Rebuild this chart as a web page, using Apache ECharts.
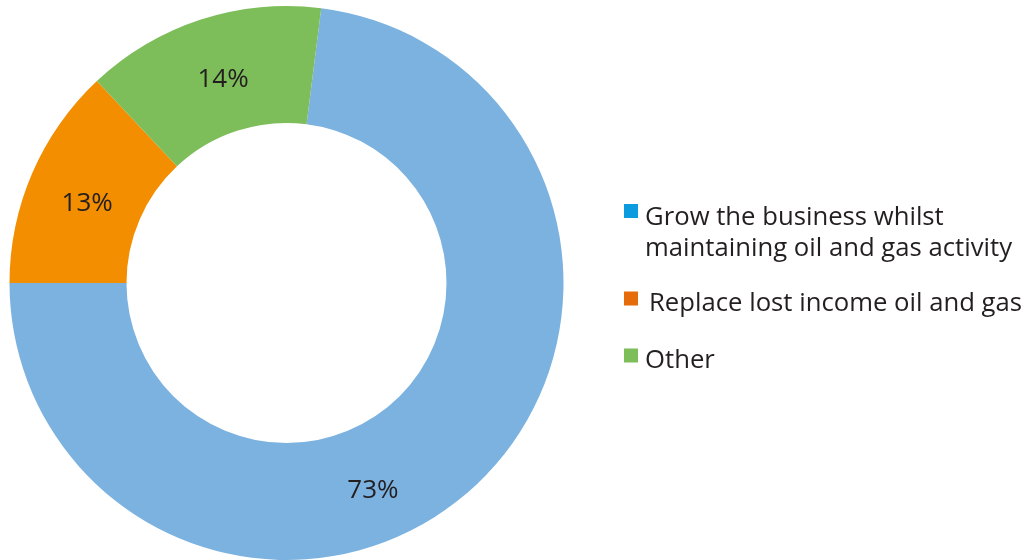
<!DOCTYPE html>
<html>
<head>
<meta charset="utf-8">
<script src="https://cdn.jsdelivr.net/npm/echarts@6/dist/echarts.min.js"></script>
<style>
html,body{margin:0;padding:0;background:#fff;}
#chart{width:1027px;height:560px;}
</style>
</head>
<body>
<div id="chart"></div>
<script>
// data
var names = ['Grow the business whilst maintaining oil and gas activity', 'Replace lost income oil and gas', 'Other'];
var legendText = ['Grow the business whilst\nmaintaining oil and gas activity', 'Replace lost income oil and gas', 'Other'];
var values = [73, 13, 14];
var sliceColors = ['#7cb2e0', '#f28e00', '#7dbd5a'];
var iconColors = ['#0d9bdf', '#e46c0a', '#7dbd5a'];

var font = '"Open Sans"';
var myChart = echarts.init(document.getElementById('chart'));

// labels in the source are not exactly at the slice middle:
// x is nudged with padding, y with an empty first line of chosen height
var labelPads = [[0, 120, 0, 0], [0, 0, 0, 8], [0, 0, 0, 10]];
var labelLineH = [82, 18, 14];

var pieData = [];
for (var i = 0; i < values.length; i++) {
    pieData.push({
        name: names[i],
        value: values[i],
        itemStyle: {color: sliceColors[i]},
        label: {padding: labelPads[i], lineHeight: labelLineH[i], formatter: '\n{c}%'}
    });
}

//one legend per item, so each row can be placed where it is in the picture.
//the square sits at the top of a taller icon box, so the text ends up a bit lower than the square
var legendTops = [202.5, 288, 345];
var iconBoxH = [59, 24, 24];
var textPad = [2, 6, 2];
var legends = [];
for (var j = 0; j < names.length; j++) {
    legends.push({
        show: true,
        left: 624,
        top: legendTops[j],
        padding: 0,
        orient: 'vertical',
        selectedMode: false,
        itemWidth: 14,
        itemHeight: iconBoxH[j],
        icon: 'path://M0,0h14v14h-14z M0,' + iconBoxH[j] + 'h0.01v0.01h-0.01z',
        data: [{name: names[j], itemStyle: {color: iconColors[j]}}],
        formatter: (function (t) { return function () { return t; }; })(legendText[j]),
        textStyle: {
            fontFamily: font,
            fontSize: 25.7,
            fontWeight: 500,
            color: '#231f20',
            lineHeight: 31,
            padding: [0, 0, 0, textPad[j]]
        }
    });
}

var option = {
    animation: false,
    legend: legends,
    series: [
        {
            type: 'pie',
            center: [286.5, 283],
            radius: [160, 277],
            startAngle: 82.8,
            clockwise: true,
            avoidLabelOverlap: false,
            label: {
                show: true,
                position: 'inside',
                formatter: '{c}%',
                fontFamily: font,
                fontSize: 26,
                fontWeight: 500,
                color: '#231f20'
            },
            labelLine: {show: false},
            emphasis: {disabled: true},
            data: pieData
        }
    ]
};
myChart.setOption(option);
</script>
</body>
</html>
